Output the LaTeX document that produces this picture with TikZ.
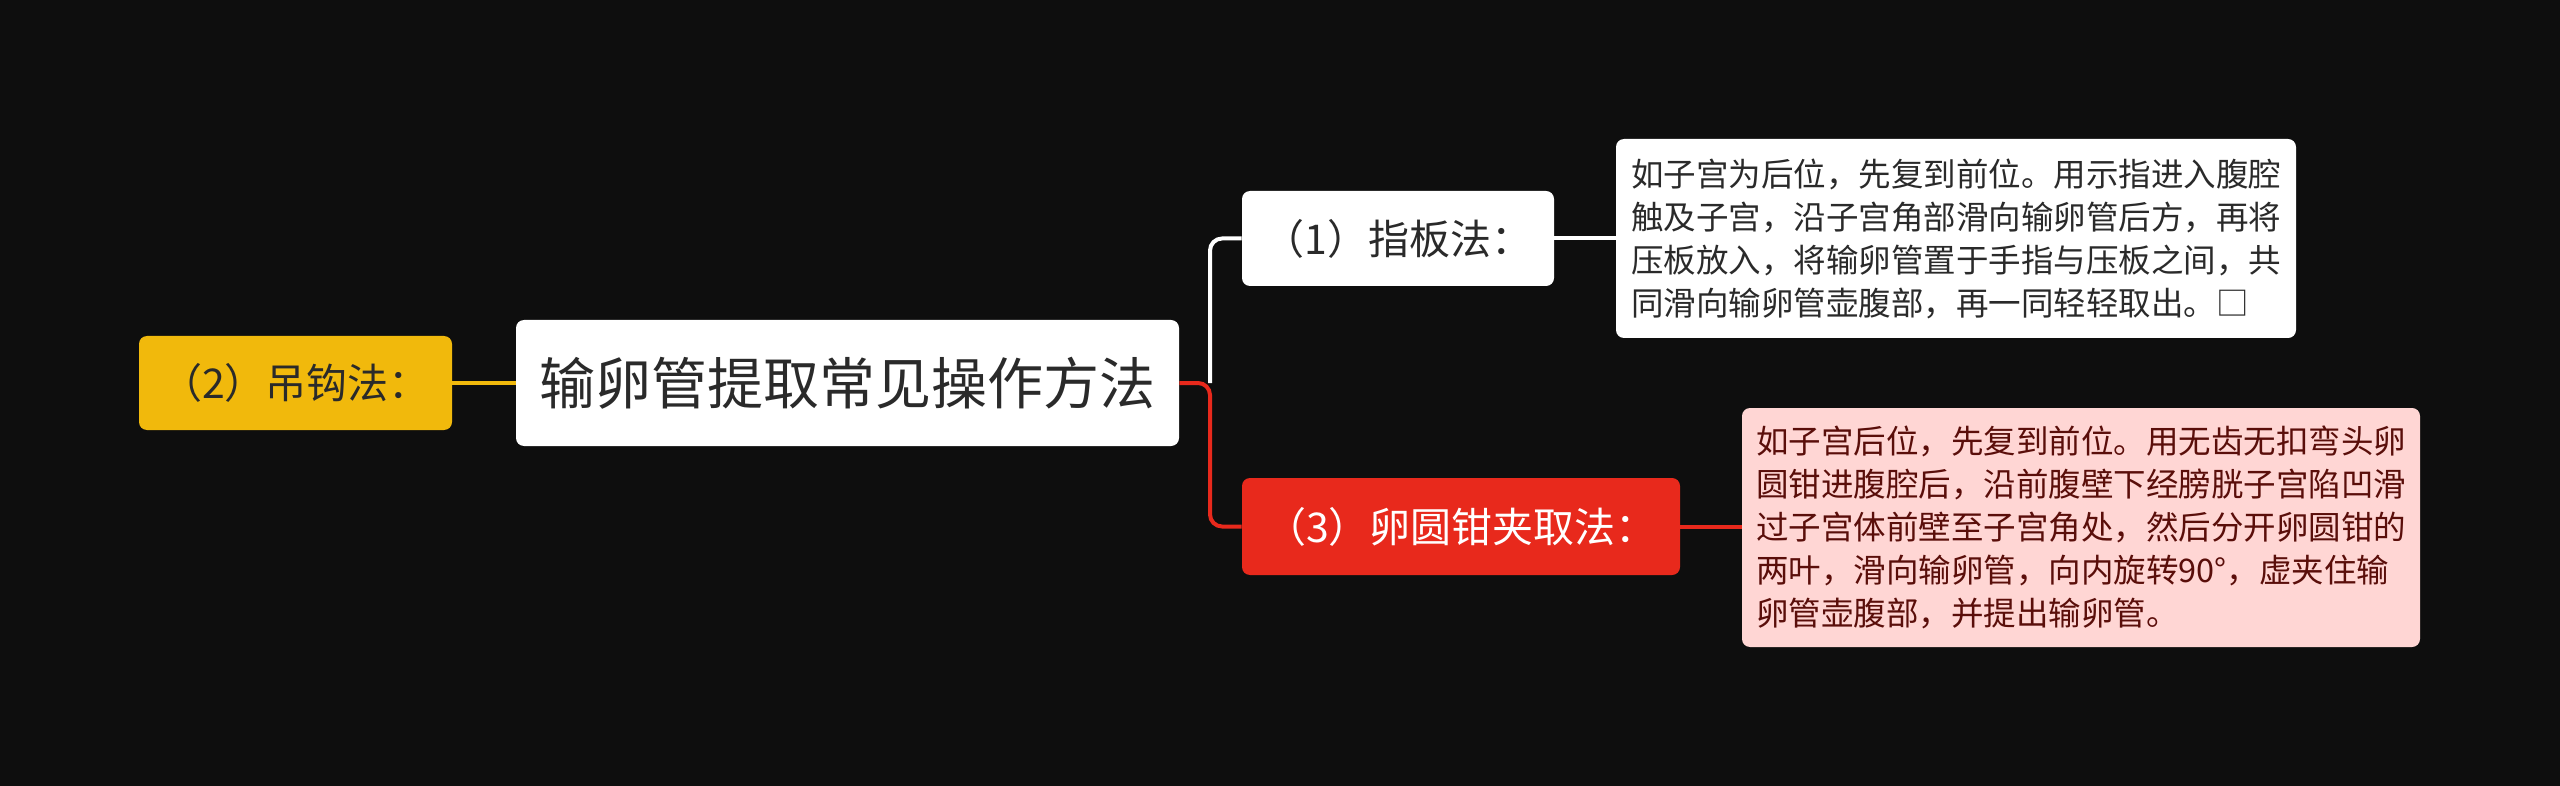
\documentclass[tikz,border=0pt]{standalone}
\usepackage{fontspec}
\setmainfont{Noto Sans CJK SC}
\definecolor{bg}{HTML}{0E0E0E}
\definecolor{ylw}{HTML}{F1B90C}
\definecolor{redc}{HTML}{E8291C}
\definecolor{pinkc}{HTML}{FFD6D4}
\definecolor{darkred}{HTML}{5A0E0A}
\definecolor{darktxt}{HTML}{2A2A2A}
\tikzset{
  box/.style={rounded corners=4pt, inner sep=0pt, draw=none, font=\fontsize{20.5}{24}\selectfont},
  rootbox/.style={box, fill=white, text=darktxt, font=\fontsize{28}{34}\selectfont},
  whitebox/.style={box, fill=white, text=darktxt},
  yellowbox/.style={box, fill=ylw, text=darktxt},
  redbox/.style={box, fill=redc, text=white},
  notebox/.style={box, align=left, text width=325pt, font=\fontsize{16.25}{21.5}\selectfont},
  conn/.style={line width=2pt, rounded corners=6pt}
}
\begin{document}
\begin{tikzpicture}[x=0.5pt,y=-0.5pt]
\fill[bg] (0,0) rectangle (2560,786);
\useasboundingbox (0,0) rectangle (2560,786);

\node[rootbox, minimum width=331.5pt, minimum height=63pt] (root) at (847.5,383) {输卵管提取常见操作方法};
\node[yellowbox, minimum width=156.5pt, minimum height=47pt] (n2) at (295.5,383) {（2）吊钩法：};
\node[whitebox, minimum width=156pt, minimum height=47.5pt] (n1) at (1398,238.5) {（1）指板法：};
\node[redbox, minimum width=219pt, minimum height=48.5pt] (n3) at (1461,526.5) {（3）卵圆钳夹取法：};

\node[notebox, fill=white, text=darktxt, minimum width=340pt, minimum height=99.5pt] (t1) at (1956,238.5)
 {如子宫为后位，先复到前位。用示指进入腹腔\\触及子宫，沿子宫角部滑向输卵管后方，再将\\压板放入，将输卵管置于手指与压板之间，共\\同滑向输卵管壶腹部，再一同轻轻取出。□};
\node[notebox, fill=pinkc, text=darkred, minimum width=339pt, minimum height=119.5pt] (t3) at (2081,527.5)
 {如子宫后位，先复到前位。用无齿无扣弯头卵\\圆钳进腹腔后，沿前腹壁下经膀胱子宫陷凹滑\\过子宫体前壁至子宫角处，然后分开卵圆钳的\\两叶，滑向输卵管，向内旋转90°，虚夹住输\\卵管壶腹部，并提出输卵管。};

\coordinate (j) at (1210,383);
\draw[conn, ylw] (n2.east) -- (root.west);
\draw[conn, white] (j) |- (n1.west);
\draw[conn, redc] (root.east) -- (j) |- (n3.west);
\draw[conn, white] (n1.east) -- (t1.west |- n1.east);
\draw[conn, redc] (n3.east) -- (t3.west |- n3.east);
\end{tikzpicture}
\end{document}
